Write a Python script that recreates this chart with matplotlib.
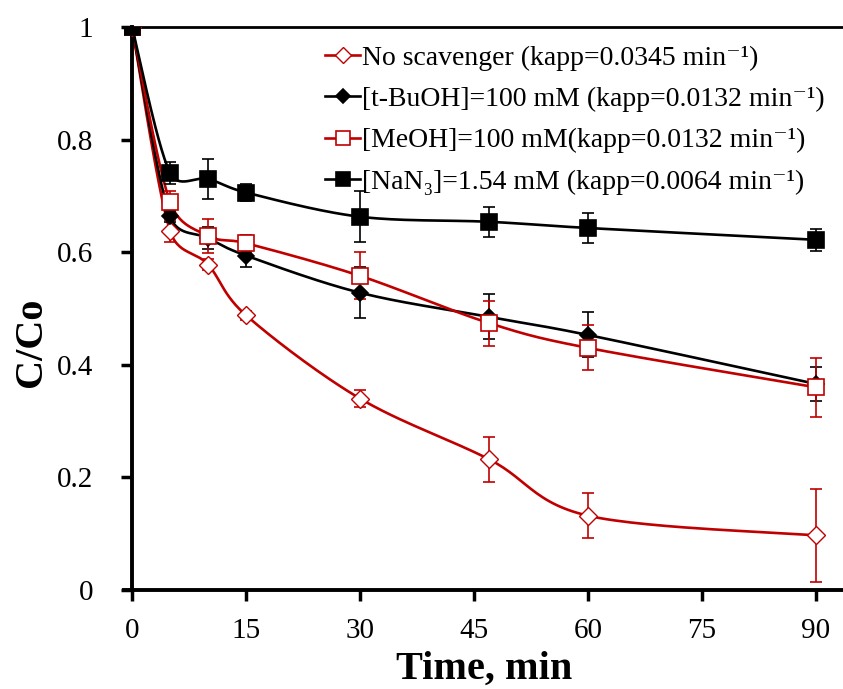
import matplotlib
matplotlib.use("Agg")
import matplotlib.pyplot as plt
import numpy as np

plt.rcParams['font.family'] = ['Liberation Serif', 'DejaVu Serif']

# sampling times (min)
t_all = [0, 5, 10, 15, 30, 47, 60, 90]

# C/Co values per series
no_scav = [1.0, 0.638, 0.578, 0.488, 0.340, 0.232, 0.132, 0.097]
no_scav_err = [0.0, 0.02, 0.01, 0.008, 0.015, 0.04, 0.04, 0.083]

tbuoh = [1.0, 0.664, 0.625, 0.594, 0.528, 0.485, 0.453, 0.366]
tbuoh_err = [0.0, 0.01, 0.02, 0.02, 0.045, 0.04, 0.04, 0.03]

meoh = [1.0, 0.689, 0.629, 0.616, 0.558, 0.474, 0.430, 0.360]
meoh_err = [0.0, 0.02, 0.03, 0.015, 0.042, 0.04, 0.04, 0.052]

nan3 = [1.0, 0.741, 0.730, 0.706, 0.663, 0.654, 0.643, 0.622]
nan3_err = [0.0, 0.02, 0.035, 0.015, 0.045, 0.027, 0.027, 0.02]

labels = ['No scavenger (kapp=0.0345 min\u207b\u00b9)',
          '[t-BuOH]=100 mM (kapp=0.0132 min\u207b\u00b9)',
          '[MeOH]=100 mM(kapp=0.0132 min\u207b\u00b9)',
          '[NaN\u2083]=1.54 mM (kapp=0.0064 min\u207b\u00b9)']

RED = '#c00000'


def smooth(x, y, sx=7.6, sy=563.0, n=30):
    """Excel-style smoothed line: Bezier segments, control arms clamped to half a segment"""
    P = np.column_stack([np.asarray(x) * sx, np.asarray(y) * sy])
    out = []
    for i in range(len(P) - 1):
        p0 = P[i - 1] if i > 0 else P[i]
        p1, p2 = P[i], P[i + 1]
        p3 = P[i + 2] if i + 2 < len(P) else P[i + 1]
        d12 = np.linalg.norm(p2 - p1)
        d02 = np.linalg.norm(p2 - p0)
        d13 = np.linalg.norm(p3 - p1)
        f0 = 1 / 6.0 if d02 / 6.0 < d12 / 2.0 else (d12 / 2.0) / max(d02, 1e-9)
        f1 = 1 / 6.0 if d13 / 6.0 < d12 / 2.0 else (d12 / 2.0) / max(d13, 1e-9)
        c1 = p1 + (p2 - p0) * f0
        c2 = p2 - (p3 - p1) * f1
        s = np.linspace(0, 1, n)[:, None]
        seg = ((1 - s) ** 3) * p1 + 3 * ((1 - s) ** 2) * s * c1 + 3 * (1 - s) * s ** 2 * c2 + s ** 3 * p2
        out.append(seg if i == 0 else seg[1:])
    out = np.vstack(out)
    return out[:, 0] / sx, out[:, 1] / sy


fig = plt.figure(figsize=(8.43, 6.89), dpi=100)
ax = fig.add_axes([0.1476, 0.1437, 0.8524, 0.8171])

series = [
    (no_scav, no_scav_err, RED, 'D', 'white', 9, 1.0),
    (tbuoh, tbuoh_err, 'black', 'D', 'black', 8, 1.2),
    (meoh, meoh_err, RED, 's', 'white', 12, 1.2),
    (nan3, nan3_err, 'black', 's', 'black', 12, 1.2),
]

handles = []
for (vals, err, col, mk, fc, ms, ew), lab in zip(series, labels):
    xs, ys = smooth(t_all, vals)
    ax.plot(xs, ys, color=col, lw=1.9, zorder=2)
    ax.errorbar(t_all, vals, yerr=err, fmt='none', ecolor=col, elinewidth=1.2,
                capsize=4, capthick=1.2, zorder=3)
    ax.plot(t_all, vals, ls='none', marker=mk, ms=ms, mfc=fc, mec=col, mew=ew, zorder=4)
    h, = ax.plot([], [], color=col, lw=1.9, marker=mk, ms=ms * 0.85, mfc=fc, mec=col, mew=ew)
    handles.append(h)

ax.set_xlim(-1.0, 93.55)
ax.set_ylim(0, 1.0)
ax.set_xticks([0, 15, 30, 45, 60, 75, 90])
ax.set_yticks([0, 0.2, 0.4, 0.6, 0.8, 1.0])
ax.set_yticklabels(['0', '0.2', '0.4', '0.6', '0.8', '1'])

ax.spines['right'].set_visible(False)
ax.spines['left'].set_position(('data', 0))
ax.spines['left'].set_linewidth(2.8)
ax.spines['bottom'].set_linewidth(2.8)
ax.spines['top'].set_linewidth(2.0)
ax.tick_params(direction='out', length=8, width=2.5, labelsize=21)
ax.tick_params(axis='x', pad=12)
ax.tick_params(axis='y', pad=20)

ax.set_xlabel('Time, min', fontsize=29, fontweight='bold', labelpad=5)
ax.set_ylabel('C/Co', fontsize=29, fontweight='bold')
ax.yaxis.set_label_coords(-0.103, 0.44)

leg = fig.legend(handles, labels, loc='upper left', bbox_to_anchor=(0.386, 0.934),
                 frameon=False, fontsize=20, handlelength=1.25, handletextpad=0.05,
                 labelspacing=0.57, borderpad=0, borderaxespad=0)

fig.savefig('out.png', dpi=100)
